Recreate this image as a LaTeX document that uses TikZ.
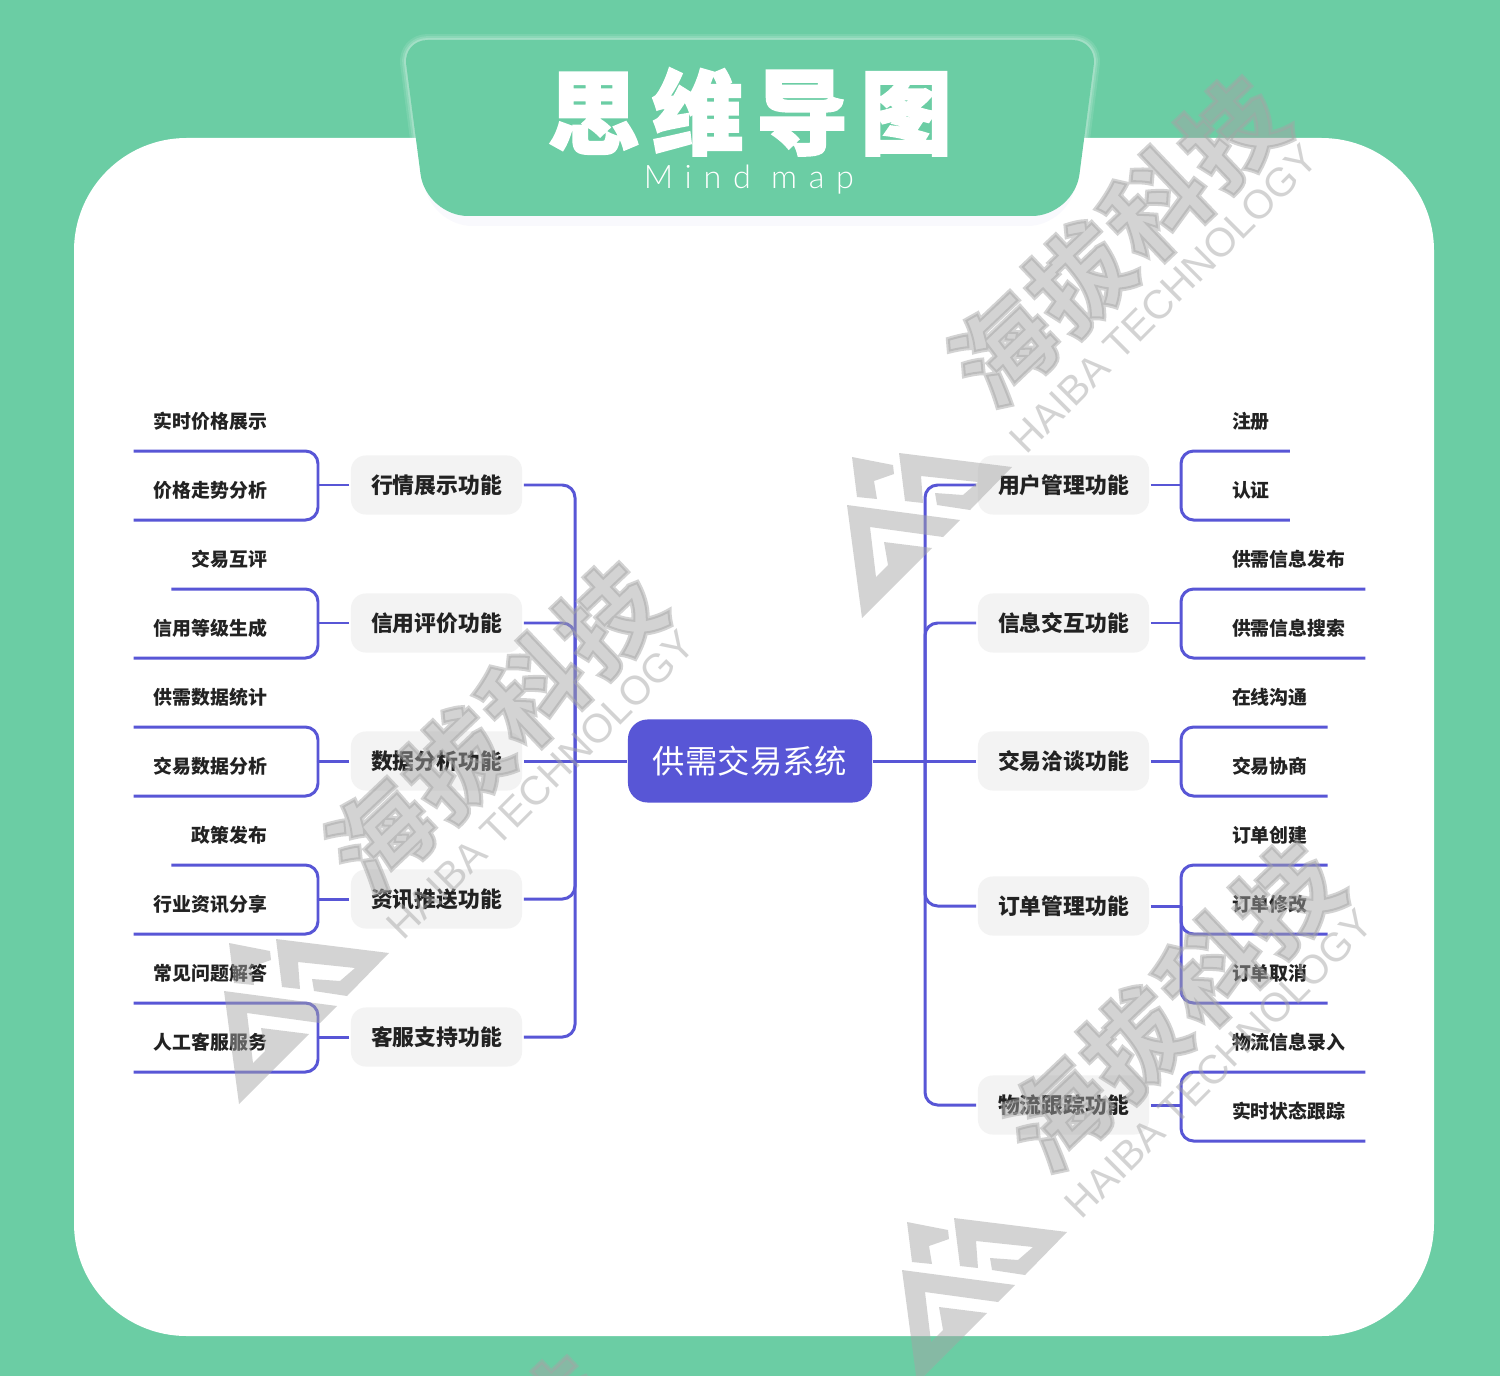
\documentclass[tikz,border=0pt]{standalone}
\usepackage{fontspec}
\usetikzlibrary{calc}
\newfontfamily\cjk{Noto Sans CJK SC}
\newfontfamily\cjkheavy[BoldFeatures={FakeBold=2.5,LetterSpace=14}]{Noto Sans CJK SC}
\newfontfamily\cjkmark[BoldFeatures={FakeBold=4,LetterSpace=5}]{Noto Sans CJK SC}
\newfontfamily\latinmark{Liberation Sans}
\newfontfamily\latintitle[LetterSpace=36]{Lato Light}
\definecolor{mapgreen}{HTML}{6BCDA4}
\definecolor{mapviolet}{HTML}{5856D6}
\definecolor{boxgray}{HTML}{F3F3F3}
\definecolor{labelink}{HTML}{222222}
\definecolor{markgray}{HTML}{A5A5A5}

\begin{document}
\begin{tikzpicture}[
    x=0.01cm, y=-0.01cm,
    link/.style={draw=mapviolet, line width=0.85pt, rounded corners=3.6pt},
    rootbox/.style={fill=mapviolet, rounded corners=5.6pt, minimum width=2.44cm, minimum height=0.83cm, inner sep=0pt, outer sep=0.3pt, text=white, font=\cjk\fontsize{9.2}{11}\selectfont},
    branchbox/.style={fill=boxgray, rounded corners=4.2pt, minimum width=1.71cm, minimum height=0.59cm, inner sep=0pt, outer sep=0.5pt, text=labelink, font=\cjk\bfseries\fontsize{6.2}{7.5}\selectfont},
    leafnote/.style={inner xsep=0.2cm, inner ysep=0pt, outer sep=0pt, minimum height=0.6cm, text=labelink, font=\cjk\bfseries\fontsize{5.37}{6.5}\selectfont},
    leftleaf/.style={leafnote, anchor=east},
    rightleaf/.style={leafnote, anchor=west},
    markfill/.style={fill=markgray, fill opacity=0.48},
    wmark/.pic={
        \fill[markfill] (17,17) -- (58,25) -- (59,34) -- (39,41) -- (42,59) -- (22,57) -- cycle;
        \fill[markfill] (64,13) -- (177,27) -- (135,70) -- (102,65) -- (100,53) -- (128,55) -- (143,42) -- (86,36) -- (88,63) -- (70,61) -- cycle;
        \fill[markfill] (12,65) -- (125,80) -- (108,97) -- (35,87) -- (41,137) -- (53,125) -- (49,102) -- (97,108) -- (27,178) -- cycle;
        \node[rotate=43.5, text=markgray, text opacity=0.48, inner sep=0pt, font=\cjkmark\bfseries\fontsize{28.5}{30}\selectfont] (name) at (283,-199) {海拔科技};
        \node[rotate=45, text=markgray, text opacity=0.48, inner sep=0pt, font=\latinmark\fontsize{11.5}{14}\selectfont] (sub) at (329,-141) {HAIBA TECHNOLOGY};
    }]

    \useasboundingbox (0,0) rectangle (1500,1376);
    \clip (0,0) rectangle (1500,1376);

    % ================= backdrop and title tab =================
    \fill[mapgreen] (0,0) rectangle (1500,1376);
    \fill[white] (74,138) [rounded corners=32pt] -- (1434,138) -- (1434,1336) -- (74,1336) -- cycle;

    \draw[white, opacity=0.1, line width=3.4pt, line join=round, rounded corners=7pt]
        (403,40) -- (1097,40) [rounded corners=12pt] -- (1074,216) -- (426,216) [rounded corners=7pt] -- cycle;
    \draw[white, opacity=0.14, line width=2.2pt, line join=round, rounded corners=7pt]
        (403,40) -- (1097,40) [rounded corners=12pt] -- (1074,216) -- (426,216) [rounded corners=7pt] -- cycle;
    \draw[white, opacity=0.2, line width=1.1pt, line join=round, rounded corners=7pt]
        (403,40) -- (1097,40) [rounded corners=12pt] -- (1074,216) -- (426,216) [rounded corners=7pt] -- cycle;
    \fill[mapviolet, opacity=0.03, rounded corners=12pt] (420,150) -- (1080,150) -- (1070,226) -- (430,226) -- cycle;
    \fill[mapgreen, rounded corners=7pt] (403,40) -- (1097,40) [rounded corners=12pt] -- (1074,216) -- (426,216) [rounded corners=7pt] -- cycle;

    \node[inner sep=0pt, text=white, font=\cjkheavy\bfseries\fontsize{26}{28}\selectfont] (title) at (750,112) {思维导图};
    \node[inner sep=0pt, text=white, font=\latintitle\fontsize{9.2}{11}\selectfont] (subtitle) at (749,180) {Mind map};

    % ================= root and the two spines =================
    \node[rootbox] (root) at (750,761) {供需交易系统};
    \coordinate (lspine) at (575,761);
    \coordinate (rspine) at (925,761);

    % ================= left side: branches =================
    \node[branchbox] (market) at (436.5,485) {行情展示功能};
    \node[branchbox] (credit) at (436.5,623) {信用评价功能};
    \node[branchbox] (stats)  at (436.5,761) {数据分析功能};
    \node[branchbox] (news)   at (436.5,899) {资讯推送功能};
    \node[branchbox] (care)   at (436.5,1037) {客服支持功能};

    \draw[link] (lspine) |- (market.east);
    \draw[link] (lspine) |- (credit.east);
    \draw[link] (root.west) -- (stats.east);
    \draw[link] (lspine) |- (news.east);
    \draw[link] (lspine) |- (care.east);

    % ================= left side: leaves =================
    \node[leftleaf] (price)  at (287,421) {实时价格展示};
    \node[leftleaf] (trend)  at (287,490) {价格走势分析};
    \node[leftleaf] (review) at (287,559) {交易互评};
    \node[leftleaf] (grade)  at (287,628) {信用等级生成};
    \node[leftleaf] (supply) at (287,697) {供需数据统计};
    \node[leftleaf] (deals)  at (287,766) {交易数据分析};
    \node[leftleaf] (policy) at (287,835) {政策发布};
    \node[leftleaf] (trade)  at (287,904) {行业资讯分享};
    \node[leftleaf] (faq)    at (287,973) {常见问题解答};
    \node[leftleaf] (agent)  at (287,1042) {人工客服服务};

    \coordinate (marketjoin) at (318,485);
    \coordinate (creditjoin) at (318,623);
    \coordinate (statsjoin)  at (318,761);
    \coordinate (newsjoin)   at (318,899);
    \coordinate (carejoin)   at (318,1037);

    % each underline bends into its bracket -
    \draw[link] (market.west) -- (marketjoin);
    \draw[link] (price.south west) -| (marketjoin);
    \draw[link] (trend.south west) -| (marketjoin);
    \draw[link] (credit.west) -- (creditjoin);
    \draw[link] (review.south west) -| (creditjoin);
    \draw[link] (grade.south west) -| (creditjoin);
    \draw[link] (stats.west) -- (statsjoin);
    \draw[link] (supply.south west) -| (statsjoin);
    \draw[link] (deals.south west) -| (statsjoin);
    \draw[link] (news.west) -- (newsjoin);
    \draw[link] (policy.south west) -| (newsjoin);
    \draw[link] (trade.south west) -| (newsjoin);
    \draw[link] (care.west) -- (carejoin);
    \draw[link] (faq.south west) -| (carejoin);
    \draw[link] (agent.south west) -| (carejoin);

    % ================= right side: branches =================
    \node[branchbox] (users)    at (1063.5,485) {用户管理功能};
    \node[branchbox] (info)     at (1063.5,623) {信息交互功能};
    \node[branchbox] (talks)    at (1063.5,761) {交易洽谈功能};
    \node[branchbox] (orders)   at (1063.5,906) {订单管理功能};
    \node[branchbox] (shipping) at (1063.5,1105) {物流跟踪功能};

    \draw[link] (rspine) |- (users.west);
    \draw[link] (rspine) |- (info.west);
    \draw[link] (root.east) -- (talks.west);
    \draw[link] (rspine) |- (orders.west);
    \draw[link] (rspine) |- (shipping.west);

    % ================= right side: leaves =================
    \node[rightleaf] (signup)  at (1212,421) {注册};
    \node[rightleaf] (verify)  at (1212,490) {认证};
    \node[rightleaf] (publish) at (1212,559) {供需信息发布};
    \node[rightleaf] (search)  at (1212,628) {供需信息搜索};
    \node[rightleaf] (chat)    at (1212,697) {在线沟通};
    \node[rightleaf] (bargain) at (1212,766) {交易协商};
    \node[rightleaf] (create)  at (1212,835) {订单创建};
    \node[rightleaf] (amend)   at (1212,904) {订单修改};
    \node[rightleaf] (cancel)  at (1212,973) {订单取消};
    \node[rightleaf] (entry)   at (1212,1042) {物流信息录入};
    \node[rightleaf] (track)   at (1212,1111) {实时状态跟踪};

    \coordinate (usersjoin)    at (1181,485);
    \coordinate (infojoin)     at (1181,623);
    \coordinate (talksjoin)    at (1181,761);
    \coordinate (ordersjoin)   at (1181,906);
    \coordinate (shippingjoin) at (1181,1105);

    \draw[link] (users.east) -- (usersjoin);
    \draw[link] (signup.south east) -| (usersjoin);
    \draw[link] (verify.south east) -| (usersjoin);
    \draw[link] (info.east) -- (infojoin);
    \draw[link] (publish.south east) -| (infojoin);
    \draw[link] (search.south east) -| (infojoin);
    \draw[link] (talks.east) -- (talksjoin);
    \draw[link] (chat.south east) -| (talksjoin);
    \draw[link] (bargain.south east) -| (talksjoin);
    \draw[link] (orders.east) -- (ordersjoin);
    \draw[link] (create.south east) -| (ordersjoin);
    \draw[link] (amend.south east) -| (ordersjoin);
    \draw[link] (cancel.south east) -| (ordersjoin);
    \draw[link] (shipping.east) -- (shippingjoin);
    \draw[link] (entry.south east) -| (shippingjoin);
    \draw[link] (track.south east) -| (shippingjoin);

    % ================= watermarks, laid over everything =================
    \pic (wma) at (835,440) {wmark};
    \pic (wmb) at (212,926) {wmark};
    \pic (wmc) at (890,1205) {wmark};
    \pic (wmd) at (160,1720) {wmark};
\end{tikzpicture}
\end{document}
